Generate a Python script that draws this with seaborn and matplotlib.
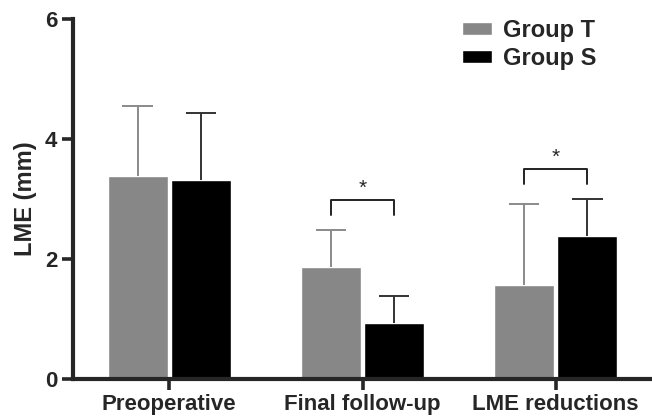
import matplotlib
matplotlib.use("Agg")
import matplotlib.pyplot as plt
import seaborn as sns
import pandas as pd

# values (mean and upper SD)
categories = ["Preoperative", "Final follow-up", "LME reductions"]
groups = ["Group T", "Group S"]
mean_t = [3.38, 1.87, 1.57]
mean_s = [3.32, 0.94, 2.39]
sd_t = [1.17, 0.62, 1.35]
sd_s = [1.12, 0.44, 0.61]
# significant pairs (category index)
sig_pairs = [1, 2]

df = pd.DataFrame({
    "time": categories * 2,
    "group": [groups[0]] * 3 + [groups[1]] * 3,
    "value": mean_t + mean_s,
})

sns.set_style("ticks")
plt.rcParams["font.family"] = ["Liberation Sans", "DejaVu Sans"]
plt.rcParams["font.weight"] = "bold"

fig = plt.figure(figsize=(6.52, 4.19), dpi=100)
ax = fig.add_axes([0.1115, 0.0955, 0.889, 0.8585])

grey = "#878787"
sns.barplot(data=df, x="time", y="value", hue="group", palette=[grey, "black"],
            width=0.655, gap=0.05, errorbar=None, ax=ax, saturation=1)

# upper error bars: stem from bar top plus a cap
cap = 0.079
err_tops = {}
for cont, sds, ecol in zip(ax.containers, [sd_t, sd_s], ["#8a8a8a", "#333333"]):
    for i, (bar, sd) in enumerate(zip(cont, sds)):
        xc = bar.get_x() + bar.get_width() / 2
        h = bar.get_height()
        ax.vlines(xc, h, h + sd, color=ecol, lw=1.4)
        ax.hlines(h + sd, xc - cap, xc + cap, color=ecol, lw=1.4)
        err_tops.setdefault(i, []).append((xc, h + sd))

# significance brackets
for i in sig_pairs:
    (x1, t1), (x2, t2) = err_tops[i]
    low = max(t1, t2) + 0.25
    high = low + 0.25
    ax.plot([x1, x1, x2, x2], [low, high, high, low], color="#222222", lw=1.4)
    ax.text((x1 + x2) / 2, high + 0.04, "*", ha="center", va="bottom",
            fontsize=15, fontweight="normal")

ax.set_ylim(0, 6)
ax.set_xlim(-0.5, 2.5)
ax.set_yticks([0, 2, 4, 6])
ax.set_xlabel("")
ax.set_ylabel("LME (mm)", fontsize=17, fontweight="bold", labelpad=6)
ax.tick_params(axis="both", width=2.6, length=8, labelsize=16, pad=3)
for lab in ax.get_xticklabels() + ax.get_yticklabels():
    lab.set_fontweight("bold")
for s in ["left", "bottom"]:
    ax.spines[s].set_linewidth(3)
sns.despine(ax=ax)

handles, labels = ax.get_legend_handles_labels()
ax.legend(handles, labels, loc="upper left", frameon=False,
          bbox_to_anchor=(461.7 / 652, 1 - 19 / 419), bbox_transform=fig.transFigure,
          borderpad=0, borderaxespad=0, handlelength=1.3, handleheight=0.5,
          handletextpad=0.45, labelspacing=0.2, prop={"weight": "bold", "size": 17})

fig.savefig("out.png", dpi=100)
